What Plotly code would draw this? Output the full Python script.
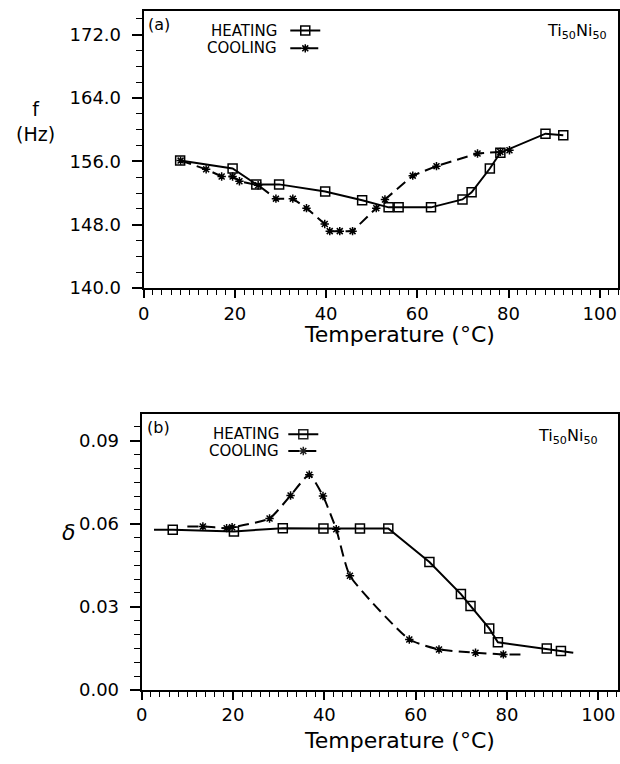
import plotly.graph_objects as go

# ---------- Data: panel (a) frequency ----------
heat_f_T = [8, 19.5, 24.7, 29.7, 39.8, 47.9, 53.7, 55.9, 63.0, 69.9, 71.9, 75.9, 78.2, 88.1, 92.0]
heat_f = [156.1, 155.1, 153.1, 153.1, 152.2, 151.1, 150.2, 150.2, 150.2, 151.2, 152.1, 155.1, 157.1, 159.5, 159.3]

cool_f_T = [8.1, 13.7, 17.1, 19.5, 21.0, 25.1, 29.0, 32.7, 35.7, 39.7, 40.8, 43.0, 45.8, 51.0, 52.9, 59.0, 64.2, 73.2, 78.2, 80.2]
cool_f = [156.1, 155.0, 154.1, 154.1, 153.5, 153.0, 151.3, 151.3, 150.1, 148.1, 147.2, 147.2, 147.2, 150.1, 151.2, 154.2, 155.4, 157.0, 157.2, 157.4]

# ---------- Data: panel (b) damping ----------
heat_d_T = [2.7, 6.8, 20.2, 30.9, 39.8, 47.8, 54.0, 63.0, 69.9, 72.0, 76.1, 78.0, 88.7, 91.8, 94.5]
heat_d = [0.0578, 0.0578, 0.0572, 0.0584, 0.0583, 0.0583, 0.0583, 0.0462, 0.0346, 0.0303, 0.0222, 0.0172, 0.0149, 0.0140, 0.0134]
heat_d_marked = [0, 1, 1, 1, 1, 1, 1, 1, 1, 1, 1, 1, 1, 1, 0]

cool_d_T = [10.0, 13.4, 18.6, 19.8, 28.0, 32.6, 36.7, 39.7, 42.6, 45.6, 58.6, 65.1, 73.1, 79.2, 83.2]
cool_d = [0.0590, 0.0590, 0.0584, 0.0587, 0.0619, 0.0702, 0.0777, 0.0700, 0.0580, 0.0412, 0.0182, 0.0146, 0.0134, 0.0128, 0.0128]
cool_d_marked = [0, 1, 1, 1, 1, 1, 1, 1, 1, 1, 1, 1, 1, 1, 0]

x_ticks = [0, 20, 40, 60, 80, 100]
f_ticks = [140.0, 148.0, 156.0, 164.0, 172.0]
d_ticks = [0.00, 0.03, 0.06, 0.09]

W, H = 620, 764
FONT = "DejaVu Sans"


def px(x):
    return x / W


def py(y):
    return 1 - y / H


fig = go.Figure()

heat_style = dict(color="black", width=2)
cool_style = dict(color="black", width=2, dash="11px,6px")
sq = dict(symbol="square-open", size=9, color="black", line=dict(width=1.5, color="black"))
st = dict(symbol="asterisk-open", size=7, color="black", line=dict(width=1.5, color="black"))

fig.add_trace(go.Scatter(x=heat_f_T, y=heat_f, mode="lines+markers", line=heat_style,
                         marker=sq, name=" ", legend="legend", xaxis="x", yaxis="y"))
fig.add_trace(go.Scatter(x=cool_f_T, y=cool_f, mode="lines+markers", line=cool_style,
                         marker=st, name=" ", legend="legend2", xaxis="x", yaxis="y"))
fig.add_trace(go.Scatter(x=heat_d_T, y=heat_d, mode="lines+markers", line=heat_style,
                         marker=dict(sq, opacity=heat_d_marked), name=" ", legend="legend3",
                         xaxis="x2", yaxis="y2"))
fig.add_trace(go.Scatter(x=cool_d_T, y=cool_d, mode="lines+markers",
                         line=dict(cool_style, shape="spline", smoothing=0.5),
                         marker=dict(st, opacity=cool_d_marked), name=" ", legend="legend4",
                         xaxis="x2", yaxis="y2"))

axis_common = dict(showline=True, linewidth=2, linecolor="black", mirror=True,
                   ticks="outside", tickcolor="black", tickwidth=1.5, showgrid=False,
                   zeroline=False, tickfont=dict(family=FONT, size=18, color="black"))

xa = dict(axis_common, range=[0, 104], tickvals=x_ticks, ticklen=8,
          minor=dict(dtick=2, tick0=0, ticklen=5, ticks="outside", tickcolor="black", tickwidth=1.2))

fig.update_layout(
    width=W, height=H,
    margin=dict(l=0, r=0, t=0, b=0),
    paper_bgcolor="white", plot_bgcolor="white",
    font=dict(family=FONT, color="black"),
    xaxis=dict(xa, domain=[px(139), px(618)], anchor="y"),
    yaxis=dict(axis_common, domain=[py(292), py(11)], anchor="x", range=[140, 175],
               tickvals=f_ticks, tickformat=".1f", ticklen=10, ticklabelstandoff=7,
               minor=dict(dtick=2, tick0=140, ticklen=6, ticks="outside", tickcolor="black", tickwidth=1.2)),
    xaxis2=dict(xa, domain=[px(137), px(618)], anchor="y2", range=[0, 104.3]),
    yaxis2=dict(axis_common, domain=[py(699), py(419)], anchor="x2", range=[0, 0.0998],
                tickvals=d_ticks, tickformat=".2f", ticklen=10, ticklabelstandoff=7,
                minor=dict(dtick=0.005, tick0=0, ticklen=6, ticks="outside", tickcolor="black", tickwidth=1.2)),
    showlegend=True,
)

leg = dict(bgcolor="rgba(0,0,0,0)", borderwidth=0, xanchor="left", yanchor="middle",
           font=dict(family=FONT, size=12), itemwidth=30)
fig.update_layout(
    legend=dict(leg, x=px(282), y=py(31)),
    legend2=dict(leg, x=px(282), y=py(49)),
    legend3=dict(leg, x=px(280), y=py(440)),
    legend4=dict(leg, x=px(280), y=py(457)),
)

ann_font = dict(family=FONT, size=16, color="black")
leg_font = dict(family=FONT, size=15, color="black")
anns = [
    dict(text="(a)", x=px(154), y=py(25)),
    dict(text="(b)", x=px(154), y=py(433)),
    dict(text="HEATING", x=px(276), y=py(31), xanchor="right", font=leg_font),
    dict(text="COOLING", x=px(276), y=py(49), xanchor="right", font=leg_font),
    dict(text="HEATING", x=px(277), y=py(440), xanchor="right", font=leg_font, borderpad=0),
    dict(text="COOLING", x=px(277), y=py(457), xanchor="right", font=leg_font, borderpad=0),
    dict(text="Ti<sub>50</sub>Ni<sub>50</sub>", x=px(577), y=py(32)),
    dict(text="Ti<sub>50</sub>Ni<sub>50</sub>", x=px(567), y=py(442)),
    dict(text="f<br>(Hz)", x=px(30), y=py(123), font=dict(family=FONT, size=19, color="black")),
    dict(text="δ", x=px(63), y=py(540), font=dict(family=FONT, size=22, color="black", style="italic")),
    dict(text="Temperature (°C)", x=px(397), y=py(339), font=dict(family=FONT, size=22, color="black")),
    dict(text="Temperature (°C)", x=px(397), y=py(750), font=dict(family=FONT, size=22, color="black")),
]
for a in anns:
    base = dict(xref="paper", yref="paper", showarrow=False, xanchor="center", yanchor="middle", font=ann_font)
    base.update(a)
    fig.add_annotation(**base)

fig.write_html("out.html")
